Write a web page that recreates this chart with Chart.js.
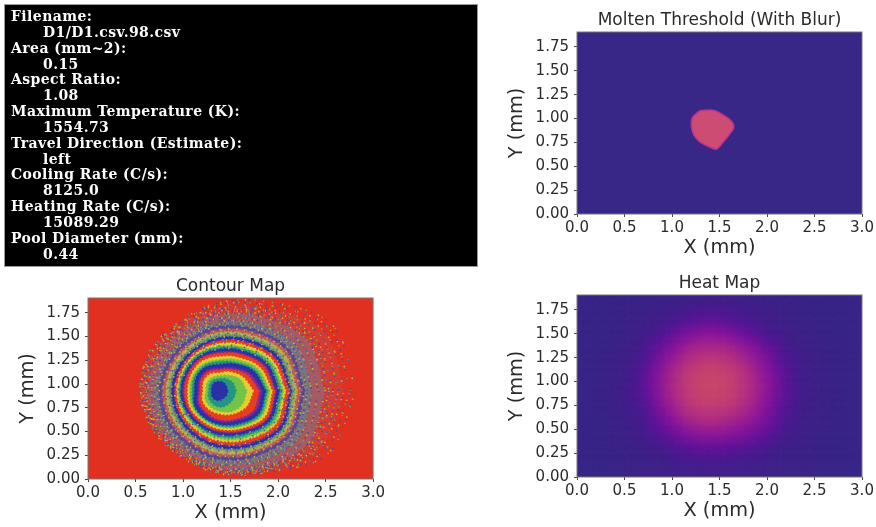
<!DOCTYPE html>
<html>
<head>
<meta charset="utf-8">
<title>Melt pool</title>
<script src="https://cdn.jsdelivr.net/npm/chart.js@4/dist/chart.umd.min.js"></script>
<style>
  html, body { margin: 0; padding: 0; background: #fff; width: 876px; height: 527px; overflow: hidden; }
  canvas { position: absolute; filter: blur(0.7px); }
  #info {
    position: absolute; left: 4px; top: 4px; width: 474px; height: 263px; box-sizing: border-box;
    background: #000; color: #fff; border: 1px solid #999; padding: 4px 0 0 6px;
    font: bold 14px/15.85px "DejaVu Serif", serif; letter-spacing: 0.42px; white-space: pre; filter: blur(0.55px);
  }
  #info div:nth-child(even) { padding-left: 32px; }
</style>
</head>
<body>
<div id="info"></div>
<canvas id="contour-map" width="376" height="254" style="left:11px;top:271px"></canvas>
<canvas id="molten-map" width="376" height="255" style="left:500px;top:5px"></canvas>
<canvas id="heat-map" width="376" height="255" style="left:500px;top:268px"></canvas>

<script>
  const infoLines = [
    'Filename:', 'D1/D1.csv.98.csv',
    'Area (mm~2):', '0.15',
    'Aspect Ratio:', '1.08',
    'Maximum Temperature (K):', '1554.73',
    'Travel Direction (Estimate):', 'left',
    'Cooling Rate (C/s):', '8125.0',
    'Heating Rate (C/s):', '15089.29',
    'Pool Diameter (mm):', '0.44'
  ];

  const xTicks = [0, 0.5, 1, 1.5, 2, 2.5, 3];
  const yTicks = [0, 0.25, 0.5, 0.75, 1, 1.25, 1.5, 1.75];
  const xTickLabels = ['0.0', '0.5', '1.0', '1.5', '2.0', '2.5', '3.0'];
  const yTickLabels = ['0.00', '0.25', '0.50', '0.75', '1.00', '1.25', '1.50', '1.75'];

  // molten pool outline, mm
  const blobX = [1.295, 1.435, 1.54, 1.628, 1.652, 1.61, 1.54, 1.47, 1.40, 1.295, 1.232, 1.204, 1.218, 1.295];
  const blobY = [1.083, 1.087, 1.038, 0.969, 0.91, 0.84, 0.753, 0.68, 0.70, 0.753, 0.823, 0.92, 1.014, 1.083];

  // heat map cells, 0.1 mm wide, top row first
  const heatColsX = [0.05, 0.15, 0.25, 0.35, 0.45, 0.55, 0.65, 0.75, 0.85, 0.95, 1.05, 1.15, 1.25, 1.35, 1.45, 1.55, 1.65, 1.75, 1.85, 1.95, 2.05, 2.15, 2.25, 2.35, 2.45, 2.55, 2.65, 2.75, 2.85, 2.95];
  const heatRowsY = [1.85, 1.75, 1.65, 1.55, 1.45, 1.35, 1.25, 1.15, 1.05, 0.95, 0.85, 0.75, 0.65, 0.55, 0.45, 0.35, 0.25, 0.15, 0.05];
  const heatCells = [
    [0, 1, 1, 1, 2, 2, 3, 3, 4, 5, 6, 7, 7, 8, 8, 8, 7, 7, 6, 5, 4, 4, 3, 3, 2, 2, 1, 1, 1, 0],
    [1, 1, 1, 2, 2, 3, 4, 4, 6, 7, 8, 10, 11, 12, 12, 12, 11, 10, 8, 7, 6, 5, 4, 3, 3, 2, 2, 1, 1, 1],
    [1, 1, 2, 2, 3, 4, 4, 6, 8, 10, 13, 16, 19, 21, 21, 20, 18, 15, 12, 10, 8, 7, 5, 4, 3, 3, 2, 2, 1, 1],
    [1, 1, 2, 3, 3, 4, 6, 8, 11, 15, 21, 26, 30, 33, 33, 32, 28, 24, 19, 14, 11, 8, 7, 5, 4, 3, 2, 2, 1, 1],
    [1, 2, 2, 3, 4, 5, 8, 11, 16, 23, 31, 38, 43, 47, 47, 45, 40, 35, 28, 22, 16, 12, 8, 6, 5, 4, 3, 2, 2, 1],
    [1, 2, 2, 3, 4, 7, 10, 14, 23, 32, 41, 49, 55, 59, 59, 58, 54, 47, 41, 32, 24, 17, 11, 8, 6, 4, 3, 3, 2, 1],
    [1, 2, 3, 4, 5, 8, 12, 19, 29, 41, 50, 59, 67, 71, 72, 70, 64, 58, 50, 41, 32, 22, 14, 10, 7, 5, 4, 3, 2, 2],
    [2, 2, 3, 4, 6, 9, 14, 23, 36, 47, 58, 70, 77, 84, 85, 82, 76, 67, 58, 47, 37, 26, 17, 11, 8, 6, 4, 3, 2, 2],
    [2, 2, 3, 4, 6, 10, 16, 27, 40, 52, 65, 76, 87, 93, 95, 91, 84, 74, 63, 52, 42, 31, 20, 12, 8, 6, 4, 3, 2, 2],
    [2, 2, 3, 4, 7, 10, 17, 28, 42, 54, 67, 80, 91, 98, 99, 97, 88, 77, 66, 54, 44, 32, 21, 13, 9, 6, 4, 3, 2, 2],
    [2, 2, 3, 4, 7, 10, 17, 28, 41, 53, 66, 78, 90, 96, 97, 95, 87, 76, 65, 53, 43, 32, 21, 13, 9, 6, 4, 3, 2, 2],
    [2, 2, 3, 4, 6, 10, 15, 25, 38, 50, 62, 74, 84, 89, 89, 86, 81, 72, 62, 50, 41, 30, 19, 12, 8, 6, 4, 3, 2, 2],
    [1, 2, 3, 4, 6, 9, 13, 21, 33, 44, 55, 67, 74, 77, 77, 75, 71, 64, 55, 46, 36, 26, 16, 11, 8, 5, 4, 3, 2, 2],
    [1, 2, 2, 3, 5, 8, 12, 17, 26, 37, 47, 55, 61, 65, 66, 63, 59, 54, 48, 41, 33, 22, 14, 10, 7, 5, 4, 3, 2, 2],
    [1, 1, 2, 3, 5, 7, 10, 14, 22, 29, 36, 43, 49, 52, 52, 51, 48, 44, 39, 33, 26, 18, 12, 8, 6, 5, 3, 3, 2, 1],
    [1, 1, 2, 3, 4, 5, 8, 11, 15, 20, 26, 32, 37, 39, 39, 38, 36, 33, 29, 24, 18, 13, 9, 7, 5, 4, 3, 2, 2, 1],
    [1, 1, 2, 2, 3, 4, 6, 8, 11, 14, 18, 22, 24, 26, 26, 25, 24, 21, 18, 15, 12, 9, 7, 6, 4, 3, 3, 2, 1, 1],
    [1, 1, 1, 2, 3, 4, 5, 6, 8, 10, 12, 14, 15, 16, 16, 16, 15, 14, 12, 10, 9, 7, 6, 5, 4, 3, 2, 2, 1, 1],
    [0, 1, 1, 1, 2, 3, 4, 5, 6, 7, 8, 9, 10, 10, 10, 10, 9, 9, 8, 7, 6, 5, 4, 4, 3, 2, 2, 1, 1, 1]
  ];

  // contour outlines: distance from the hot spot in mm, one value per ringAngles entry
  const ringCentre = [1.38, 0.927];
  const ringAngles = [0, 30, 60, 90, 120, 150, 180, 210, 240, 270, 300, 330];
  const ringBands = [
    ['blue', [.09, .09, .10, .10, .10, .09, .08, .09, .10, .10, .09, .09]],
    ['teal', [.18, .17, .15, .13, .13, .12, .11, .13, .15, .17, .17, .17]],
    ['green', [.29, .25, .19, .16, .16, .15, .14, .17, .19, .21, .25, .28]],
    ['yellow', [.36, .29, .23, .19, .20, .19, .17, .20, .22, .24, .28, .33]],
    ['red', [.42, .34, .26, .22, .23, .22, .20, .24, .26, .30, .34, .41]],
    ['purple', [.45, .37, .28, .24, .25, .24, .22, .26, .28, .32, .36, .44]],
    ['blue', [.49, .42, .33, .28, .29, .28, .26, .30, .32, .35, .40, .48]],
    ['teal', [.51, .44, .35, .31, .31, .30, .285, .31, .33, .365, .42, .50]],
    ['green', [.535, .47, .38, .33, .33, .32, .31, .33, .345, .38, .435, .52]],
    ['yellow', [.56, .495, .405, .36, .36, .34, .33, .35, .36, .40, .455, .55]],
    ['red', [.59, .53, .445, .395, .39, .37, .365, .37, .385, .42, .48, .58]],
    ['purple', [.60, .55, .46, .41, .40, .38, .38, .38, .39, .43, .49, .59]],
    ['blue', [.635, .58, .49, .44, .42, .405, .405, .405, .42, .46, .52, .62]],
    ['teal', [.66, .60, .51, .46, .44, .42, .42, .42, .435, .48, .545, .645]],
    ['green', [.68, .625, .53, .475, .45, .43, .43, .435, .455, .50, .57, .67]],
    ['yellow', [.70, .65, .555, .50, .465, .445, .445, .45, .475, .525, .59, .69]],
    ['red', [.735, .68, .585, .525, .485, .465, .465, .475, .50, .555, .625, .725]],
    ['purple', [.745, .69, .595, .535, .49, .47, .47, .48, .51, .565, .64, .74]],
    ['blue', [.76, .72, .625, .56, .515, .50, .50, .51, .54, .595, .67, .77]],
    ['teal', [.78, .74, .645, .58, .535, .515, .52, .53, .555, .61, .685, .785]],
    ['green', [.80, .765, .66, .60, .55, .535, .54, .55, .575, .63, .705, .805]],
    ['yellow', [.825, .79, .68, .615, .57, .555, .56, .57, .595, .655, .725, .825]],
    ['red', [.86, .82, .71, .64, .59, .58, .59, .60, .62, .68, .75, .85]],
    ['purple', [.875, .83, .72, .65, .60, .59, .60, .61, .63, .69, .76, .86]],
    ['blue', [.90, .86, .75, .68, .63, .62, .63, .64, .66, .72, .79, .89]]
  ];
  // outer noisy zone, drawn as broken strokes
  const noiseRings = [
    [.93, .90, .78, .70, .65, .64, .65, .66, .68, .74, .82, .93],
    [.98, .94, .81, .73, .67, .66, .68, .69, .70, .77, .85, .97],
    [1.05, 1.0, .85, .765, .70, .70, .71, .72, .735, .805, .90, 1.03],
    [1.12, 1.07, .90, .80, .74, .74, .75, .75, .75, .82, .92, 1.09],
    [1.16, 1.11, .925, .82, .755, .755, .765, .76, .755, .825, .93, 1.12],
    [1.20, 1.15, .95, .84, .77, .77, .78, .77, .76, .83, .94, 1.15],
    [1.26, 1.21, .975, .865, .79, .79, .80, .78, .77, .84, .95, 1.19],
    [1.32, 1.27, 1.0, .89, .81, .815, .82, .795, .775, .85, .96, 1.22],
    [1.38, 1.33, 1.04, .91, .825, .83, .825, .80, .79, .86, .975, 1.27],
    [1.44, 1.38, 1.08, .93, .84, .84, .83, .81, .80, .87, .99, 1.32]
  ];
  const noiseGaps = [3.1, 5.3, 4.1, 6.7, 4.9, 8.3, 6.1, 11.3, 8.9, 14.7];

  const bandColors = {
    blue: 'rgb(42, 48, 165)',
    teal: 'rgb(35, 150, 130)',
    green: 'rgb(115, 195, 70)',
    yellow: 'rgb(232, 205, 50)',
    red: 'rgb(232, 62, 32)',
    purple: 'rgb(140, 40, 140)'
  };
  const mutedColors = {
    blue: 'rgb(85, 70, 150)',
    teal: 'rgb(95, 140, 120)',
    green: 'rgb(135, 170, 90)',
    yellow: 'rgb(190, 170, 85)',
    red: 'rgb(195, 90, 75)',
    purple: 'rgb(130, 70, 130)'
  };
  const noiseColors = ['rgba(60, 70, 170, 0.8)', 'rgba(110, 185, 90, 0.8)', 'rgba(225, 200, 60, 0.8)', 'rgba(140, 60, 150, 0.8)', 'rgba(226, 60, 40, 0.85)'];

  infoLines.forEach(t => {
    const line = document.createElement('div');
    line.textContent = t;
    document.getElementById('info').appendChild(line);
  });

  function heatColor(v) {
    const stops = [[0, 57, 39, 135], [10, 68, 32, 140], [25, 95, 20, 155], [45, 145, 22, 158], [65, 182, 45, 135], [85, 203, 65, 115], [100, 210, 75, 105]];
    let i = 0;
    while (i < stops.length - 2 && v > stops[i + 1][0]) i++;
    const a = stops[i], b = stops[i + 1], t = (v - a[0]) / (b[0] - a[0]);
    return `rgb(${a[1] + (b[1] - a[1]) * t}, ${a[2] + (b[2] - a[2]) * t}, ${a[3] + (b[3] - a[3]) * t})`;
  }

  function ringPoints(radii) {
    const pts = radii.map((r, i) => ({
      x: ringCentre[0] + r * Math.cos(ringAngles[i] * Math.PI / 180),
      y: ringCentre[1] + r * Math.sin(ringAngles[i] * Math.PI / 180)
    }));
    pts.push(pts[0]);
    return pts;
  }

  // plot background and frame
  const framePlugin = {
    id: 'frame',
    beforeDatasetsDraw(chart, args, opts) {
      const a = chart.chartArea;
      chart.ctx.fillStyle = opts.color;
      chart.ctx.fillRect(a.left, a.top, a.width, a.height);
    },
    afterDraw(chart) {
      const a = chart.chartArea;
      chart.ctx.strokeStyle = '#777';
      chart.ctx.lineWidth = 1;
      chart.ctx.strokeRect(a.left, a.top, a.width, a.height);
    }
  };

  function panelOptions(title, plotColor, rightPad) {
    return {
      responsive: false,
      animation: false,
      layout: { padding: { right: rightPad } },
      plugins: {
        legend: { display: false },
        tooltip: { enabled: false },
        frame: { color: plotColor },
        title: {
          display: true, text: title, color: '#2a2a2a', fullSize: false,
          font: { family: 'DejaVu Sans', size: 17, weight: 'normal' },
          padding: { top: 5, bottom: 1.6 }
        }
      },
      scales: {
        x: {
          type: 'linear', min: 0, max: 3,
          afterBuildTicks: s => { s.ticks = xTicks.map(v => ({ value: v })); },
          afterFit: s => { s.height = 46; },
          grid: { drawOnChartArea: false, tickLength: 3, color: '#444' },
          border: { display: false },
          ticks: {
            maxRotation: 0, autoSkip: false, padding: 2, color: '#2a2a2a',
            font: { family: 'DejaVu Sans', size: 15 },
            callback: v => xTickLabels[xTicks.indexOf(v)]
          },
          title: {
            display: true, text: 'X (mm)', color: '#2a2a2a', padding: 0,
            font: { family: 'DejaVu Sans', size: 19.3 }
          }
        },
        y: {
          type: 'linear', min: 0, max: 1.906,
          afterBuildTicks: s => { s.ticks = yTicks.map(v => ({ value: v })); },
          afterFit: s => { s.width = 77; },
          grid: { drawOnChartArea: false, tickLength: 3, color: '#444' },
          border: { display: false },
          ticks: {
            autoSkip: false, padding: 5, color: '#2a2a2a',
            font: { family: 'DejaVu Sans', size: 15 },
            callback: v => yTickLabels[yTicks.indexOf(v)]
          },
          title: {
            display: true, text: 'Y (mm)', color: '#2a2a2a', padding: { top: 5, bottom: 0 },
            font: { family: 'DejaVu Sans', size: 19.3 }
          }
        }
      }
    };
  }

  // Contour map, first dataset is drawn last
  const contourSets = [];
  // grain on top of the outer bands, denser going out
  for (let j = 12; j < ringBands.length; j++) {
    [0, 2].forEach(k => {
      contourSets.push({
        data: ringPoints(ringBands[j][1]), showLine: true, fill: false, tension: 0.35, pointRadius: 0,
        borderColor: noiseColors[(j + k) % 4], borderWidth: 1.5,
        borderDash: [1.4, 11 - (j - 12) * 0.45 + k * 0.7], borderDashOffset: j * 1.7 + k * 2.3
      });
    });
  }
  ringBands.forEach((b, j) => {
    const color = (j >= 19 ? mutedColors : bandColors)[b[0]];
    contourSets.push({
      data: ringPoints(b[1]), showLine: true, fill: 'shape', tension: 0.35, pointRadius: 0,
      backgroundColor: color, borderColor: color,
      borderWidth: 1.6, borderDash: [1.4, 2.2]
    });
  });
  noiseRings.forEach((radii, i) => {
    noiseColors.forEach((c, k) => {
      contourSets.push({
        data: ringPoints(radii), showLine: true, fill: false, tension: 0.35, pointRadius: 0,
        borderColor: c, borderWidth: 1.6,
        borderDash: [1.3, noiseGaps[i] + k * 1.37], borderDashOffset: i * 3.7 + k * 5.3
      });
    });
  });
  // muddy base under the noisy zone
  [[1, 'rgb(125, 115, 125)'], [3, 'rgb(168, 90, 98)'], [7, 'rgb(216, 58, 46)']].forEach(b => {
    contourSets.push({
      data: ringPoints(noiseRings[b[0]]), showLine: true, fill: 'shape', tension: 0.35, pointRadius: 0,
      backgroundColor: b[1], borderWidth: 0
    });
  });

  new Chart(document.getElementById('contour-map'), {
    type: 'scatter',
    data: { datasets: contourSets },
    options: panelOptions('Contour Map', 'rgb(226, 48, 32)', 10),
    plugins: [framePlugin]
  });

  // Molten threshold
  new Chart(document.getElementById('molten-map'), {
    type: 'scatter',
    data: {
      datasets: [{
        data: blobX.map((x, i) => ({ x: x, y: blobY[i] })),
        showLine: true, fill: 'shape', tension: 0.3, pointRadius: 0,
        backgroundColor: 'rgb(205, 76, 115)', borderColor: 'rgb(185, 50, 140)', borderWidth: 1.5
      }]
    },
    options: panelOptions('Molten Threshold (With Blur)', 'rgb(57, 39, 135)', 14),
    plugins: [framePlugin]
  });

  // Heat map
  const heatPoints = [], heatColors = [];
  heatCells.forEach((row, r) => {
    row.forEach((v, c) => {
      heatPoints.push({ x: heatColsX[c], y: heatRowsY[r] });
      heatColors.push(heatColor(v));
    });
  });

  new Chart(document.getElementById('heat-map'), {
    type: 'scatter',
    data: {
      datasets: [{
        data: heatPoints, pointStyle: 'rect', pointRadius: 10, pointBorderWidth: 0,
        backgroundColor: heatColors
      }]
    },
    options: panelOptions('Heat Map', 'rgb(57, 39, 135)', 14),
    plugins: [framePlugin, {
      id: 'cellBlur',
      beforeDatasetsDraw(chart) { chart.ctx.save(); chart.ctx.filter = 'blur(5px)'; },
      afterDatasetsDraw(chart) { chart.ctx.restore(); }
    }]
  });
</script>
</body>
</html>
